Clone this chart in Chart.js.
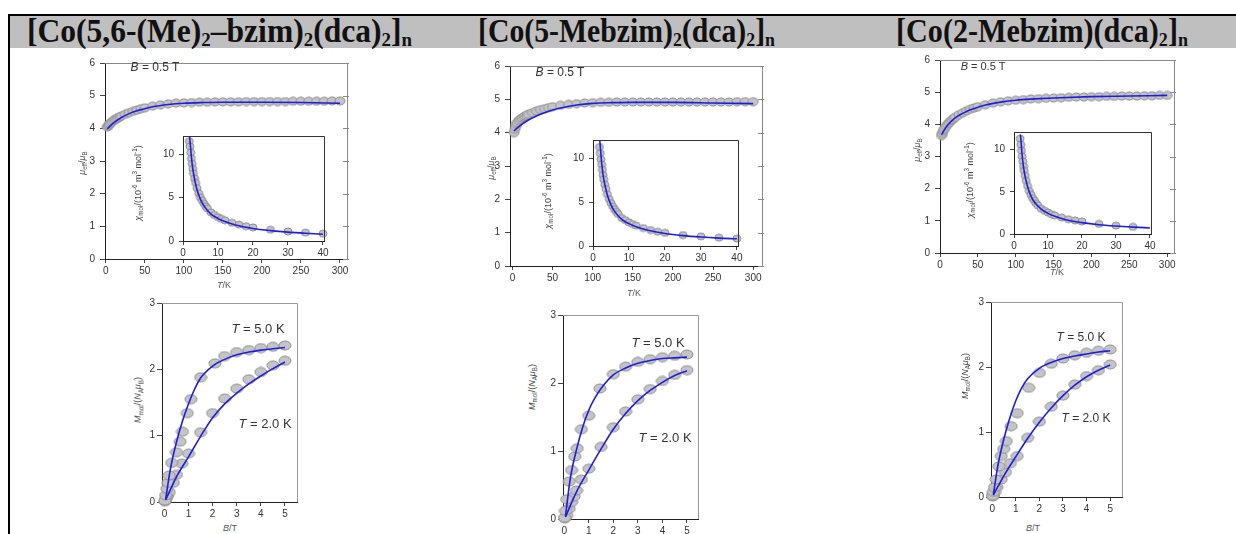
<!DOCTYPE html>
<html>
<head>
<meta charset="utf-8">
<script src="https://cdn.jsdelivr.net/npm/chart.js@4.4.0/dist/chart.umd.min.js"></script>
<style>
body { margin: 0; background: #fff; }
#page { position: relative; width: 1236px; height: 534px; overflow: hidden; font-family: "Liberation Sans", Arial, sans-serif; }
.rule { position: absolute; background: #000; }
.band { position: absolute; left: 10px; top: 16px; width: 1226px; height: 32px; background: #bfbfbf; }
.hdr { position: absolute; top: 15px; font: bold 33px "Liberation Serif", serif; line-height: 1; white-space: nowrap; transform-origin: 0 0; color: #111; }
.hdr sub { font-size: 60%; vertical-align: -0.22em; line-height: 0; }
canvas { position: absolute; }
.lbl { position: absolute; white-space: nowrap; color: #333; transform: translate(-50%, -50%); line-height: 1; }
.rot { transform: translate(-50%, -50%) rotate(-90deg); }
.lbl sub, .lbl sup { font-size: 70%; line-height: 0; }
</style>
</head>
<body>
<div id="page">
  <div class="rule" style="left:8px; top:14px; width:1228px; height:2px;"></div>
  <div class="rule" style="left:8px; top:14px; width:2px; height:520px;"></div>
  <div class="band"></div>
  <div class="hdr" data-w="385" style="left:27px;">[Co(5,6-(Me)<sub>2</sub>–bzim)<sub>2</sub>(dca)<sub>2</sub>]<sub>n</sub></div>
  <div class="hdr" data-w="297" style="left:478px;">[Co(5-Mebzim)<sub>2</sub>(dca)<sub>2</sub>]<sub>n</sub></div>
  <div class="hdr" data-w="292" style="left:896px;">[Co(2-Mebzim)(dca)<sub>2</sub>]<sub>n</sub></div>
</div>
<script>
// T (K) for the mu_eff data points, shared by the three samples
const tempPts = [2, 3, 4, 5, 6, 8, 10, 12, 14, 16, 18, 20, 25, 30, 35, 40, 45, 50, 60, 70, 80, 90, 100,
    110, 120, 130, 140, 150, 160, 170, 180, 190, 200, 210, 220, 230, 240, 250, 260, 270, 280, 290, 300];
const muPtsA = [4.04, 4.07, 4.10, 4.13, 4.16, 4.20, 4.24, 4.27, 4.30, 4.33, 4.35, 4.38, 4.43, 4.48, 4.52, 4.56, 4.60, 4.63, 4.68, 4.72, 4.75, 4.77, 4.78,
    4.79, 4.80, 4.80, 4.81, 4.81, 4.81, 4.81, 4.82, 4.82, 4.82, 4.82, 4.82, 4.82, 4.83, 4.83, 4.83, 4.83, 4.83, 4.84, 4.84];
const muPtsB = [4.00, 4.10, 4.18, 4.25, 4.30, 4.36, 4.40, 4.44, 4.47, 4.50, 4.52, 4.55, 4.60, 4.65, 4.69, 4.72, 4.75, 4.78, 4.82, 4.85, 4.87, 4.89, 4.90,
    4.91, 4.91, 4.92, 4.92, 4.92, 4.92, 4.92, 4.92, 4.92, 4.92, 4.92, 4.92, 4.92, 4.92, 4.92, 4.92, 4.92, 4.93, 4.93, 4.93];
const muPtsC = [3.65, 3.72, 3.78, 3.83, 3.87, 3.94, 4.00, 4.05, 4.10, 4.14, 4.18, 4.22, 4.30, 4.36, 4.42, 4.47, 4.51, 4.55, 4.61, 4.66, 4.70, 4.73, 4.75,
    4.77, 4.79, 4.80, 4.81, 4.82, 4.83, 4.84, 4.85, 4.85, 4.86, 4.86, 4.87, 4.87, 4.88, 4.88, 4.88, 4.89, 4.89, 4.90, 4.90];

// fitted mu_eff curves
const tempFit = [2, 5, 10, 20, 30, 40, 50, 60, 80, 100, 125, 150, 200, 250, 300];
const muFitA = [3.98, 4.06, 4.17, 4.33, 4.45, 4.54, 4.60, 4.66, 4.73, 4.77, 4.79, 4.80, 4.80, 4.79, 4.77];
const muFitB = [4.05, 4.12, 4.22, 4.38, 4.50, 4.60, 4.68, 4.74, 4.83, 4.88, 4.90, 4.91, 4.91, 4.89, 4.87];
const muFitC = [3.68, 3.80, 3.97, 4.20, 4.34, 4.45, 4.53, 4.60, 4.69, 4.75, 4.79, 4.82, 4.86, 4.88, 4.90];

// inset: chi_mol (10^-6 m3 mol-1) vs T
const tInset = [1.8, 2, 2.2, 2.4, 2.6, 2.8, 3, 3.3, 3.6, 4, 4.5, 5, 5.5, 6, 6.5, 7, 8, 9, 10, 11, 12, 14, 16, 18, 20, 25, 30, 35, 40];
const chiPtsA = [11.5, 10.9, 10.2, 9.5, 8.9, 8.3, 7.8, 7.2, 6.7, 6.1, 5.5, 5.0, 4.65, 4.3, 4.0, 3.75, 3.3, 3.0, 2.75, 2.55, 2.38, 2.1, 1.88, 1.7, 1.57, 1.3, 1.1, 0.96, 0.85];
const chiPtsB = [11.3, 10.6, 9.9, 9.3, 8.7, 8.1, 7.6, 7.0, 6.5, 5.9, 5.35, 4.9, 4.5, 4.2, 3.9, 3.65, 3.2, 2.95, 2.7, 2.5, 2.32, 2.05, 1.82, 1.63, 1.5, 1.25, 1.1, 0.95, 0.85];
const chiPtsC = [11.3, 10.6, 9.9, 9.2, 8.6, 8.0, 7.5, 6.9, 6.3, 5.7, 5.1, 4.65, 4.25, 3.95, 3.65, 3.4, 3.0, 2.75, 2.55, 2.35, 2.2, 1.95, 1.75, 1.6, 1.48, 1.2, 1.0, 0.85, null];
const tInsetFit = [1.9, 2.5, 3, 4, 5, 6, 8, 10, 12, 15, 20, 25, 30, 35, 40];
const chiFitA = [12.0, 9.3, 7.8, 5.9, 4.8, 4.05, 3.1, 2.6, 2.25, 1.85, 1.45, 1.2, 1.02, 0.9, 0.78];
const chiFitB = [12.0, 9.1, 7.6, 5.8, 4.7, 3.95, 3.05, 2.55, 2.2, 1.82, 1.42, 1.18, 1.02, 0.9, 0.82];
const chiFitC = [11.8, 8.9, 7.4, 5.6, 4.5, 3.8, 2.95, 2.45, 2.1, 1.72, 1.35, 1.1, 0.94, 0.82, 0.72];

// magnetisation M_mol/(N_A mu_B) vs B (T); "hi" curve labelled T = 5.0 K, "lo" curve T = 2.0 K
const bHiA = [0.02, 0.05, 0.1, 0.15, 0.2, 0.3, 0.5, 0.65, 0.75, 0.95, 1.1, 1.5, 2.1, 2.5, 3.0, 3.5, 4.0, 4.5, 5.0];
const mHiA = [0.02, 0.1, 0.2, 0.29, 0.4, 0.59, 0.75, 0.91, 1.06, 1.34, 1.55, 1.88, 2.09, 2.2, 2.26, 2.29, 2.32, 2.34, 2.36];
const bLoA = [0.02, 0.05, 0.1, 0.15, 0.2, 0.37, 0.5, 0.72, 1.0, 1.5, 2.0, 2.5, 3.0, 3.5, 4.0, 4.5, 5.0];
const mLoA = [0.01, 0.04, 0.08, 0.11, 0.15, 0.29, 0.41, 0.58, 0.73, 1.05, 1.34, 1.56, 1.71, 1.85, 1.96, 2.06, 2.13];
const bHiB = [0.02, 0.05, 0.1, 0.2, 0.3, 0.43, 0.53, 0.7, 1.0, 1.45, 2.0, 2.5, 3.0, 3.5, 4.0, 4.5, 5.0];
const mHiB = [0.02, 0.12, 0.29, 0.55, 0.72, 0.92, 1.04, 1.32, 1.52, 1.92, 2.13, 2.24, 2.31, 2.35, 2.38, 2.4, 2.42];
const bLoB = [0.02, 0.1, 0.2, 0.3, 0.4, 0.5, 0.7, 1.0, 1.5, 2.0, 2.5, 3.0, 3.5, 4.0, 4.5, 5.0];
const mLoB = [0.01, 0.05, 0.15, 0.25, 0.33, 0.42, 0.58, 0.74, 1.06, 1.35, 1.58, 1.76, 1.91, 2.03, 2.12, 2.19];
const bHiC = [0.02, 0.05, 0.1, 0.17, 0.28, 0.38, 0.49, 0.6, 0.8, 1.06, 1.55, 2.0, 2.5, 3.0, 3.5, 4.0, 4.5, 5.0];
const mHiC = [0.02, 0.08, 0.15, 0.27, 0.47, 0.63, 0.74, 0.86, 1.09, 1.29, 1.68, 1.91, 2.05, 2.13, 2.18, 2.22, 2.25, 2.27];
const bLoC = [0.02, 0.05, 0.1, 0.2, 0.38, 0.56, 0.77, 1.06, 1.5, 2.0, 2.5, 3.0, 3.5, 4.0, 4.5, 5.0];
const mLoC = [0.01, 0.03, 0.07, 0.15, 0.27, 0.38, 0.52, 0.63, 0.91, 1.16, 1.39, 1.56, 1.73, 1.86, 1.95, 2.04];
const bFitHi = [0.05, 0.25, 0.5, 0.75, 1.0, 1.25, 1.5, 2.0, 2.5, 3.0, 3.5, 4.0, 4.5, 5.0];
const mFitHiA = [0.04, 0.5, 0.9, 1.22, 1.48, 1.7, 1.87, 2.05, 2.15, 2.22, 2.26, 2.29, 2.31, 2.33];
const mFitHiB = [0.04, 0.6, 1.02, 1.35, 1.6, 1.78, 1.92, 2.12, 2.22, 2.29, 2.33, 2.36, 2.37, 2.38];
const mFitHiC = [0.04, 0.5, 0.9, 1.22, 1.48, 1.68, 1.82, 1.98, 2.07, 2.13, 2.17, 2.2, 2.23, 2.25];
const bFitLo = [0.05, 0.5, 1.0, 1.5, 2.0, 2.5, 3.0, 3.5, 4.0, 4.5, 5.0];
const mFitLoA = [0.03, 0.38, 0.68, 0.99, 1.27, 1.48, 1.64, 1.78, 1.9, 2.01, 2.11];
const mFitLoB = [0.03, 0.4, 0.72, 1.03, 1.32, 1.55, 1.74, 1.89, 2.01, 2.11, 2.18];
const mFitLoC = [0.03, 0.33, 0.62, 0.9, 1.15, 1.37, 1.56, 1.72, 1.85, 1.95, 2.03];

// tick labels
const tTicks = [0, 50, 100, 150, 200, 250, 300];
const muTicks = [0, 1, 2, 3, 4, 5, 6];
const tInsetTicks = [0, 10, 20, 30, 40];
const chiTicks = [0, 5, 10];
const bTicks = [0, 1, 2, 3, 4, 5];
const mTicks = [0, 1, 2, 3];

const page = document.getElementById('page');

// squeeze the header formulas to the widths they have in the table
document.querySelectorAll('.hdr').forEach(h => {
    const w = h.getBoundingClientRect().width;
    h.style.transform = `scaleX(${h.dataset.w / w})`;
});

// grey marker, a bit wider than tall like the scanned figure
function dot(w, h) {
    const c = document.createElement('canvas');
    c.width = w + 2; c.height = h + 2;
    const g = c.getContext('2d');
    g.beginPath();
    g.ellipse(c.width / 2, c.height / 2, w / 2, h / 2, 0, 0, Math.PI * 2);
    g.fillStyle = '#c4c4c4'; g.fill();
    g.strokeStyle = '#8e8e8e'; g.lineWidth = 1; g.stroke();
    return c;
}
const dotMain = dot(10, 8), dotInset = dot(8, 7), dotMag = dot(12, 9);

// top and right edges of the frame (+ small right ticks on the big plots)
const framePlugin = {
    id: 'frame',
    beforeDraw(chart, args, o) {
        if (!o.white) return;
        const a = chart.chartArea;
        chart.ctx.fillStyle = '#fff';
        chart.ctx.fillRect(a.left, a.top, a.right - a.left, a.bottom - a.top);
    },
    afterDraw(chart, args, o) {
        const { ctx, chartArea: a, scales } = chart;
        ctx.save();
        ctx.strokeStyle = o.color; ctx.lineWidth = 1;
        ctx.beginPath();
        ctx.moveTo(a.left, a.top + 0.5); ctx.lineTo(a.right + 0.5, a.top + 0.5); ctx.lineTo(a.right + 0.5, a.bottom);
        if (o.rightTicks) {
            scales.y.ticks.forEach(t => {
                const y = Math.round(scales.y.getPixelForValue(t.value)) + 0.5;
                ctx.moveTo(a.right - 4, y); ctx.lineTo(a.right + 2, y);
            });
        }
        ctx.stroke();
        ctx.restore();
    }
};

function axis(a, size, vertical) {
    return {
        type: 'linear', min: a.min, max: a.max,
        afterBuildTicks: s => { s.ticks = a.ticks.map(v => ({ value: v })); },
        afterFit: s => { if (vertical) s.width = size; else s.height = size; },
        grid: { display: true, drawOnChartArea: false, drawTicks: true, tickLength: a.tick, color: '#444' },
        border: { display: true, color: '#222', width: 1 },
        ticks: { font: { family: 'Liberation Sans', size: a.font || 10 }, color: '#333', padding: a.pad, autoSkip: false, maxRotation: 0 }
    };
}

function points(xs, ys, img) {
    return { data: xs.map((x, i) => ({ x: x, y: ys[i] })), pointStyle: img, pointRadius: 5, showLine: false, clip: false, order: 2 };
}
function fitLine(xs, ys) {
    return { data: xs.map((x, i) => ({ x: x, y: ys[i] })), showLine: true, pointRadius: 0, borderColor: '#1d1de6', borderWidth: 1.6,
        cubicInterpolationMode: 'monotone', fill: false, order: 1 };
}

// box = plot area in page pixels
function panel(box, cfg) {
    const PL = cfg.pl, PT = 8, PR = 14, PB = cfg.pb || 18;
    const w = box.r - box.l + PL + PR, h = box.b - box.t + PT + PB;
    const cv = document.createElement('canvas');
    cv.width = w; cv.height = h;
    cv.style.left = (box.l - PL) + 'px'; cv.style.top = (box.t - PT) + 'px';
    cv.style.width = w + 'px'; cv.style.height = h + 'px';
    page.appendChild(cv);
    return new Chart(cv, {
        type: 'scatter',
        data: { datasets: cfg.sets },
        options: {
            responsive: false, animation: false, devicePixelRatio: 1,
            layout: { padding: { top: PT, right: PR, left: 0, bottom: 0 } },
            plugins: { legend: { display: false }, tooltip: { enabled: false },
                frame: { color: cfg.frameColor || '#888', rightTicks: cfg.rightTicks, white: cfg.white } },
            scales: { x: axis(cfg.x, PB, false), y: axis(cfg.y, PL, true) }
        },
        plugins: [framePlugin]
    });
}

function label(html, x, y, size, rot, color) {
    const d = document.createElement('div');
    d.className = 'lbl' + (rot ? ' rot' : '');
    d.style.left = x + 'px'; d.style.top = y + 'px';
    d.style.fontSize = size + 'px';
    if (color) d.style.color = color;
    d.innerHTML = html;
    page.appendChild(d);
}

const sets = [
    { main: { l: 105, r: 347, t: 60, b: 259 }, xr: [-1, 309], mu: muPtsA, muFit: muFitA,
      inset: { l: 183, r: 324, t: 133, b: 241 }, chi: chiPtsA, chiFit: chiFitA,
      mag: { l: 162, r: 297, t: 303, b: 502 }, br: [-0.1, 5.5],
      hi: [bHiA, mHiA, mFitHiA], lo: [bLoA, mLoA, mFitLoA] },
    { main: { l: 510, r: 762, t: 63, b: 266 }, xr: [-3, 311], mu: muPtsB, muFit: muFitB,
      inset: { l: 593, r: 738, t: 137, b: 246 }, chi: chiPtsB, chiFit: chiFitB,
      mag: { l: 563, r: 698, t: 315, b: 519 }, br: [-0.05, 5.45],
      hi: [bHiB, mHiB, mFitHiB], lo: [bLoB, mLoB, mFitLoB] },
    { main: { l: 940, r: 1174, t: 57, b: 253 }, xr: [0, 309], mu: muPtsC, muFit: muFitC,
      inset: { l: 1014, r: 1151, t: 129, b: 234 }, chi: chiPtsC, chiFit: chiFitC,
      mag: { l: 991, r: 1122, t: 302, b: 497 }, br: [-0.05, 5.5],
      hi: [bHiC, mHiC, mFitHiC], lo: [bLoC, mLoC, mFitLoC] }
];

sets.forEach(s => {
    panel(s.main, {
        pl: 26, rightTicks: true,
        x: { min: s.xr[0], max: s.xr[1], ticks: tTicks, tick: 4, pad: 2 },
        y: { min: 0, max: 6, ticks: muTicks, tick: 5, pad: 5 },
        sets: [fitLine(tempFit, s.muFit), points(tempPts, s.mu, dotMain)]
    });
    panel(s.inset, {
        pl: 24, white: true, frameColor: '#333',
        x: { min: 0, max: 40.3, ticks: tInsetTicks, tick: 4, pad: 2 },
        y: { min: 0, max: 12.1, ticks: chiTicks, tick: 4, pad: 5 },
        sets: [fitLine(tInsetFit, s.chiFit), points(tInset, s.chi, dotInset)]
    });
    panel(s.mag, {
        pl: 20, frameColor: '#999',
        x: { min: s.br[0], max: s.br[1], ticks: bTicks, tick: 4, pad: 2 },
        y: { min: 0, max: 3, ticks: mTicks, tick: 5, pad: 2 },
        sets: [fitLine(bFitHi, s.hi[2]), fitLine(bFitLo, s.lo[2]), points(s.hi[0], s.hi[1], dotMag), points(s.lo[0], s.lo[1], dotMag)]
    });
});

// axis titles and annotations
const muTitle = '<i>μ</i><sub>eff</sub>/<i>μ</i><sub>B</sub>';
const chiTitle = '<i>χ</i><sub>mol</sub>/(10<sup>-6</sup> m<sup>3</sup> mol<sup>-1</sup>)';
const magTitle = '<i>M</i><sub>mol</sub>/(<i>N</i><sub>A</sub><i>μ</i><sub>B</sub>)';
label('<i>B</i> = 0.5 T', 155, 67, 12);
label('<i>B</i> = 0.5 T', 560, 72, 12);
label('<i>B</i> = 0.5 T', 983, 66, 11);
label(muTitle, 82, 163, 9, true, '#555');
label(muTitle, 491, 168, 9, true, '#555');
label(muTitle, 917, 150, 9, true, '#555');
label(chiTitle, 138, 183, 9, true, '#444');
label(chiTitle, 548, 191, 9, true, '#444');
label(chiTitle, 970, 180, 9, true, '#444');
label('<i>T</i>/K', 224, 285, 9, false, '#555');
label('<i>T</i>/K', 634, 293, 9, false, '#555');
label('<i>T</i>/K', 1057, 272, 9, false, '#555');
label(magTitle, 138, 400, 9, true, '#444');
label(magTitle, 532, 387, 9, true, '#444');
label(magTitle, 965, 376, 9, true, '#444');
label('<i>B</i>/T', 230, 528, 9, false, '#555');
label('<i>B</i>/T', 1033, 528, 9, false, '#555');
label('<i>T</i> = 5.0 K', 258, 328, 13);
label('<i>T</i> = 2.0 K', 265, 423, 13);
label('<i>T</i> = 5.0 K', 658, 342, 13);
label('<i>T</i> = 2.0 K', 665, 437, 13);
label('<i>T</i> = 5.0 K', 1081, 337, 12);
label('<i>T</i> = 2.0 K', 1086, 418, 12);
</script>
</body>
</html>
